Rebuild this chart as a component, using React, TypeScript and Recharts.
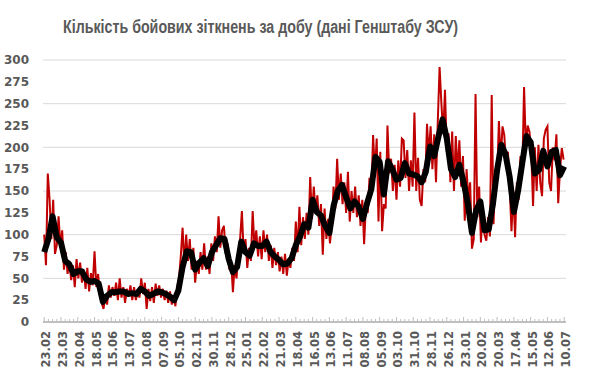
import { CartesianGrid, Line, LineChart, XAxis, YAxis } from "recharts";

// days since 23.02, one tick label every 4 weeks
const tickLabels = [
  "23.02", "23.03", "20.04", "18.05", "15.06", "13.07", "10.08", "07.09",
  "05.10", "02.11", "30.11", "28.12", "25.01", "22.02", "21.03", "18.04",
  "16.05", "13.06", "11.07", "08.08", "05.09", "03.10", "31.10", "28.11",
  "26.12", "23.01", "20.02", "20.03", "17.04", "15.05", "12.06", "10.07",
];

const yTicks = [0, 25, 50, 75, 100, 125, 150, 175, 200, 225, 250, 275, 300];

// daily clashes, read every 3rd day
const clashStep = 3;
const dailyClashes = [
  100, 65, 170, 140, 95, 140, 78, 88, 121, 86,
  105, 60, 80, 55, 70, 48, 65, 40, 72, 50,
  68, 45, 60, 38, 62, 35, 56, 42, 81, 40,
  55, 30, 22, 15, 30, 20, 42, 28, 40, 30,
  45, 25, 50, 28, 40, 22, 38, 30, 42, 25,
  40, 25, 35, 28, 50, 32, 45, 15, 38, 24,
  40, 22, 44, 30, 42, 28, 38, 25, 36, 22,
  35, 20, 30, 18, 40, 50, 75, 108, 65, 100,
  70, 95, 60, 85, 45, 70, 55, 80, 60, 90,
  60, 75, 55, 90, 70, 98, 80, 121, 85, 105,
  110, 78, 90, 60, 70, 34, 65, 50, 78, 95,
  127, 78, 95, 62, 85, 70, 127, 85, 105, 75,
  98, 72, 105, 80, 100, 70, 88, 62, 85, 65,
  80, 58, 75, 55, 78, 53, 72, 62, 85, 70,
  115, 80, 132, 88, 120, 95, 125, 100, 166, 118,
  155, 125, 145, 110, 135, 77, 130, 95, 118, 90,
  110, 155, 130, 187, 140, 170, 135, 160, 125, 172,
  115, 150, 125, 155, 120, 145, 110, 140, 89, 135,
  125, 165, 145, 214, 170, 210, 115, 195, 104, 135,
  130, 225, 170, 187, 150, 180, 140, 185, 155, 210,
  208, 165, 197, 150, 185, 155, 240, 150, 188, 140,
  133, 175, 160, 227, 190, 224, 175, 215, 160, 230,
  292, 250, 215, 266, 195, 216, 160, 218, 150, 213,
  170, 208, 155, 190, 116, 175, 140, 160, 84, 95,
  261, 120, 155, 91, 130, 100, 93, 120, 98, 260,
  112, 175, 165, 230, 185, 224, 214, 180, 195, 155,
  104, 150, 97, 160, 140, 190, 170, 269, 200, 225,
  218, 195, 133, 200, 150, 203, 160, 144, 210, 220,
  224, 160, 150, 200, 185, 215, 136, 175, 199, 186,
];

// smoothed (moving average) line, read weekly
const avgStep = 7;
const movingAverage = [
  80, 95, 121, 97, 91, 70, 66, 55, 58, 58,
  49, 46, 47, 44, 23, 30, 34, 34, 35, 35,
  32, 33, 32, 38, 35, 30, 32, 35, 34, 32,
  29, 25, 36, 63, 81, 80, 60, 68, 73, 64,
  80, 88, 96, 95, 72, 57, 63, 92, 80, 76,
  90, 87, 87, 92, 80, 75, 71, 66, 67, 73,
  88, 98, 112, 108, 140, 126, 122, 110, 102, 133,
  150, 157, 143, 130, 138, 132, 118, 136, 152, 189,
  183, 146, 184, 175, 163, 165, 182, 170, 169, 167,
  160, 172, 201, 190, 212, 232, 210, 175, 166, 180,
  160, 136, 102, 128, 138, 105, 106, 135, 174, 203,
  192, 166, 126, 150, 182, 213, 206, 170, 174, 196,
  178, 195, 197, 168, 178,
];

const rowsByDay = new Map<number, { day: number; clashes?: number; avg?: number }>();
dailyClashes.forEach((v, i) => {
  const day = i * clashStep;
  rowsByDay.set(day, { ...(rowsByDay.get(day) ?? { day }), clashes: v });
});
movingAverage.forEach((v, i) => {
  const day = i * avgStep;
  rowsByDay.set(day, { ...(rowsByDay.get(day) ?? { day }), avg: v });
});
const data = [...rowsByDay.values()].sort((a, b) => a.day - b.day);

const weekTicks = movingAverage.map((_, i) => i * avgStep);

const axisFont = { fontFamily: "'DejaVu Sans', Verdana, sans-serif", fontWeight: 700 };
const grey = "#595959";

function DayTick({ x, y, payload }: any) {
  const day = payload.value as number;
  const major = day % 28 === 0;
  const label = major ? tickLabels[day / 28] : null;
  return (
    <g>
      <line x1={x} x2={x} y1={y} y2={y - (major ? 5 : 3)} stroke="#bfbfbf" strokeWidth={1} />
      {label && (
        <text
          transform={`translate(${x + 6},${y + 9}) rotate(-90)`}
          textAnchor="end"
          fill={grey}
          fontSize={11.5}
          {...axisFont}
        >
          {label}
        </text>
      )}
    </g>
  );
}

export default function App() {
  return (
    <div style={{ position: "absolute", left: 0, top: 0, width: 590, height: 375, background: "#fff" }}>
      <svg width={590} height={40} style={{ position: "absolute", left: 0, top: 0 }}>
        <text
          x={260.5}
          y={33}
          textAnchor="middle"
          textLength={395}
          lengthAdjust="spacingAndGlyphs"
          fill={grey}
          fontFamily="'Liberation Sans Narrow', 'Liberation Sans', Arial, sans-serif"
          fontWeight={700}
          fontSize={18}
        >
          Кількість бойових зіткнень за добу (дані Генштабу ЗСУ)
        </text>
      </svg>
      <LineChart width={590} height={375} data={data} margin={{ top: 60, right: 24, bottom: 3, left: 0 }}>
        <CartesianGrid vertical={false} stroke="#d9d9d9" />
        <XAxis
          dataKey="day"
          type="number"
          domain={[-2, 871]}
          ticks={weekTicks}
          interval={0}
          height={50}
          tickSize={0}
          tickMargin={0}
          tickLine={false}
          axisLine={{ stroke: "#bfbfbf", strokeWidth: 2 }}
          tick={<DayTick />}
        />
        <YAxis
          domain={[0, 300]}
          ticks={yTicks}
          width={43}
          axisLine={false}
          tickLine={false}
          tickSize={0}
          tickMargin={14}
          tick={{ fill: grey, fontSize: 12, ...axisFont }}
        />
        <Line
          dataKey="clashes"
          stroke="#c00000"
          strokeWidth={2}
          dot={false}
          connectNulls
          isAnimationActive={false}
        />
        <Line
          dataKey="avg"
          stroke="#000000"
          strokeWidth={6}
          strokeLinejoin="round"
          dot={false}
          connectNulls
          isAnimationActive={false}
        />
      </LineChart>
    </div>
  );
}
